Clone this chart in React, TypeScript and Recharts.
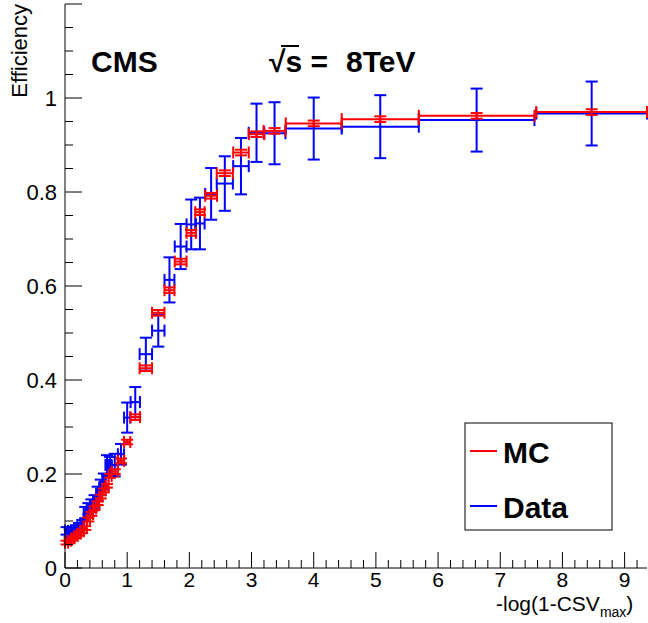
import { ScatterChart, Scatter, XAxis, YAxis, ErrorBar } from "recharts";

// bin centres and half widths in -log(1-CSV_max)
const binCenters = [
    0.025, 0.075, 0.125, 0.175, 0.225, 0.275, 0.325, 0.375, 0.425, 0.475, 0.525, 0.575, 0.625, 0.675, 0.725,
    0.8, 0.9, 1.0, 1.13, 1.3, 1.5, 1.68, 1.86, 2.03, 2.17, 2.35, 2.57, 2.83, 3.08, 3.37, 4.0, 5.07, 6.62, 8.47,
];
const binHalfWidths = [
    0.025, 0.025, 0.025, 0.025, 0.025, 0.025, 0.025, 0.025, 0.025, 0.025, 0.025, 0.025, 0.025, 0.025, 0.025,
    0.05, 0.05, 0.05, 0.075, 0.1, 0.1, 0.08, 0.095, 0.075, 0.075, 0.095, 0.13, 0.125, 0.125, 0.175, 0.45, 0.62, 0.93, 0.89,
];

// MC efficiency (red)
const mcEff = [
    0.054, 0.058, 0.063, 0.068, 0.073, 0.078, 0.085, 0.103, 0.115, 0.127, 0.138, 0.152, 0.165, 0.175, 0.196,
    0.205, 0.228, 0.268, 0.321, 0.425, 0.543, 0.591, 0.652, 0.713, 0.757, 0.792, 0.84, 0.884, 0.923, 0.93, 0.946, 0.955, 0.962, 0.97,
];
const mcErr = [
    0.004, 0.004, 0.004, 0.004, 0.004, 0.004, 0.004, 0.004, 0.004, 0.004, 0.004, 0.004, 0.004, 0.004, 0.004,
    0.005, 0.005, 0.005, 0.006, 0.006, 0.006, 0.006, 0.006, 0.006, 0.006, 0.006, 0.006, 0.006, 0.006, 0.006, 0.006, 0.006, 0.006, 0.006,
];

// Data efficiency (blue)
const dataEff = [
    0.079, 0.074, 0.078, 0.082, 0.087, 0.092, 0.118, 0.126, 0.133, 0.141, 0.158, 0.172, 0.184, 0.219, 0.216,
    0.219, 0.242, 0.32, 0.353, 0.455, 0.505, 0.613, 0.684, 0.731, 0.733, 0.796, 0.818, 0.855, 0.926, 0.925, 0.935, 0.939, 0.953, 0.967,
];
const dataErr = [
    0.008, 0.008, 0.008, 0.009, 0.009, 0.01, 0.012, 0.012, 0.013, 0.014, 0.015, 0.016, 0.017, 0.021, 0.02,
    0.024, 0.022, 0.032, 0.032, 0.035, 0.034, 0.048, 0.048, 0.053, 0.055, 0.055, 0.058, 0.06, 0.062, 0.066, 0.066, 0.067, 0.067, 0.068,
];

// axis ticks (major + minor)
const xTicks = Array.from({ length: 47 }, (_, i) => Math.round(i * 2) / 10);
const yTicks = Array.from({ length: 25 }, (_, i) => Math.round(i * 5) / 100);

const mcPoints = binCenters.map((x, i) => ({ x, y: mcEff[i], ex: binHalfWidths[i], ey: mcErr[i] }));
const dataPoints = binCenters.map((x, i) => ({ x, y: dataEff[i], ex: binHalfWidths[i], ey: dataErr[i] }));

const FONT = "'Liberation Sans', Arial, Helvetica, sans-serif";

const isMajorX = (v: number) => Math.abs(v - Math.round(v)) < 1e-6;
const isMajorY = (v: number) => Math.abs(v * 5 - Math.round(v * 5)) < 1e-6;

function BottomTick(props: any) {
    const { x, y, payload } = props;
    const major = isMajorX(payload.value);
    return (
        <g>
            <line x1={x} x2={x} y1={y} y2={y - (major ? 16 : 8)} stroke="#000" />
            {major && (
                <text x={x} y={y + 19} textAnchor="middle" fontSize={21} fontFamily={FONT} fill="#000">
                    {Math.round(payload.value)}
                </text>
            )}
        </g>
    );
}

function TopTick(props: any) {
    const { x, y, payload } = props;
    const major = isMajorX(payload.value);
    return <line x1={x} x2={x} y1={y} y2={y + (major ? 16 : 8)} stroke="#000" />;
}

function LeftTick(props: any) {
    const { x, y, payload } = props;
    const v = payload.value;
    const major = isMajorY(v);
    return (
        <g>
            <line x1={x} x2={x + (major ? 17 : 8)} y1={y} y2={y} stroke="#000" />
            {major && v < 1.1 && (
                <text x={x - 8} y={y + 8} textAnchor="end" fontSize={22} fontFamily={FONT} fill="#000">
                    {String(Math.round(v * 10) / 10)}
                </text>
            )}
        </g>
    );
}

function RightTick(props: any) {
    const { x, y, payload } = props;
    const major = isMajorY(payload.value);
    return <line x1={x} x2={x - (major ? 17 : 8)} y1={y} y2={y} stroke="#000" />;
}

const noMark = () => <g />;

export default function App() {
    return (
        <div style={{ position: "absolute", left: 0, top: 0, width: 648, height: 623, background: "#fff" }}>
            <ScatterChart width={648} height={623} margin={{ top: 4, right: 1, bottom: 0, left: 0 }}>
                <XAxis
                    type="number"
                    dataKey="x"
                    domain={[0, 9.36]}
                    ticks={xTicks}
                    interval={0}
                    height={55}
                    tickSize={0}
                    tickMargin={0}
                    tickLine={false}
                    tick={<BottomTick />}
                    axisLine={{ stroke: "#000" }} />
                <XAxis
                    xAxisId="top"
                    orientation="top"
                    type="number"
                    domain={[0, 9.36]}
                    ticks={xTicks}
                    interval={0}
                    height={0}
                    tickSize={0}
                    tickMargin={0}
                    tickLine={false}
                    tick={<TopTick />}
                    axisLine={{ stroke: "#000" }} />
                <YAxis
                    type="number"
                    dataKey="y"
                    domain={[0, 1.2]}
                    ticks={yTicks}
                    interval={0}
                    width={65}
                    tickSize={0}
                    tickMargin={0}
                    tickLine={false}
                    tick={<LeftTick />}
                    axisLine={{ stroke: "#000" }} />
                <YAxis
                    yAxisId="right"
                    orientation="right"
                    type="number"
                    domain={[0, 1.2]}
                    ticks={yTicks}
                    interval={0}
                    width={0}
                    tickSize={0}
                    tickMargin={0}
                    tickLine={false}
                    tick={<RightTick />}
                    axisLine={{ stroke: "#000" }} />
                <Scatter name="Data" data={dataPoints} shape={noMark} isAnimationActive={false}>
                    <ErrorBar dataKey="ex" direction="x" width={6} stroke="#0000ff" strokeWidth={2} />
                    <ErrorBar dataKey="ey" direction="y" width={6} stroke="#0000ff" strokeWidth={2} />
                </Scatter>
                <Scatter name="MC" data={mcPoints} shape={noMark} isAnimationActive={false}>
                    <ErrorBar dataKey="ex" direction="x" width={6} stroke="#ff0000" strokeWidth={2} />
                    <ErrorBar dataKey="ey" direction="y" width={6} stroke="#ff0000" strokeWidth={2} />
                </Scatter>
            </ScatterChart>

            <svg width={648} height={623} style={{ position: "absolute", left: 0, top: 0, pointerEvents: "none" }}>
                <text transform="translate(27,4) rotate(-90)" textAnchor="end" fontSize={22} fontFamily={FONT} fill="#000">
                    Efficiency
                </text>
                <text x={496} y={611} fontSize={21} fontFamily={FONT} fill="#000">
                    -log(1-CSV<tspan fontSize={14} dy={6}>max</tspan><tspan dy={-6}>)</tspan>
                </text>

                <text x={91} y={72} fontSize={30} fontWeight="bold" fontFamily={FONT} fill="#000">CMS</text>
                <text x={269} y={72} fontSize={30} fontWeight="bold" fontFamily={FONT} fill="#000">√s =</text>
                <line x1={281} x2={299} y1={46} y2={46} stroke="#000" strokeWidth={2} />
                <text x={346} y={72} fontSize={30} fontWeight="bold" fontFamily={FONT} fill="#000">8TeV</text>

                <rect x={465} y={423} width={147} height={107} fill="#fff" stroke="#000" />
                <line x1={470} x2={497} y1={451} y2={451} stroke="#ff0000" strokeWidth={2} />
                <text x={503} y={463} fontSize={30} fontWeight="bold" fontFamily={FONT} fill="#000">MC</text>
                <line x1={470} x2={497} y1={506} y2={506} stroke="#0000ff" strokeWidth={2} />
                <text x={503} y={518} fontSize={30} fontWeight="bold" fontFamily={FONT} fill="#000">Data</text>
            </svg>
        </div>
    );
}
